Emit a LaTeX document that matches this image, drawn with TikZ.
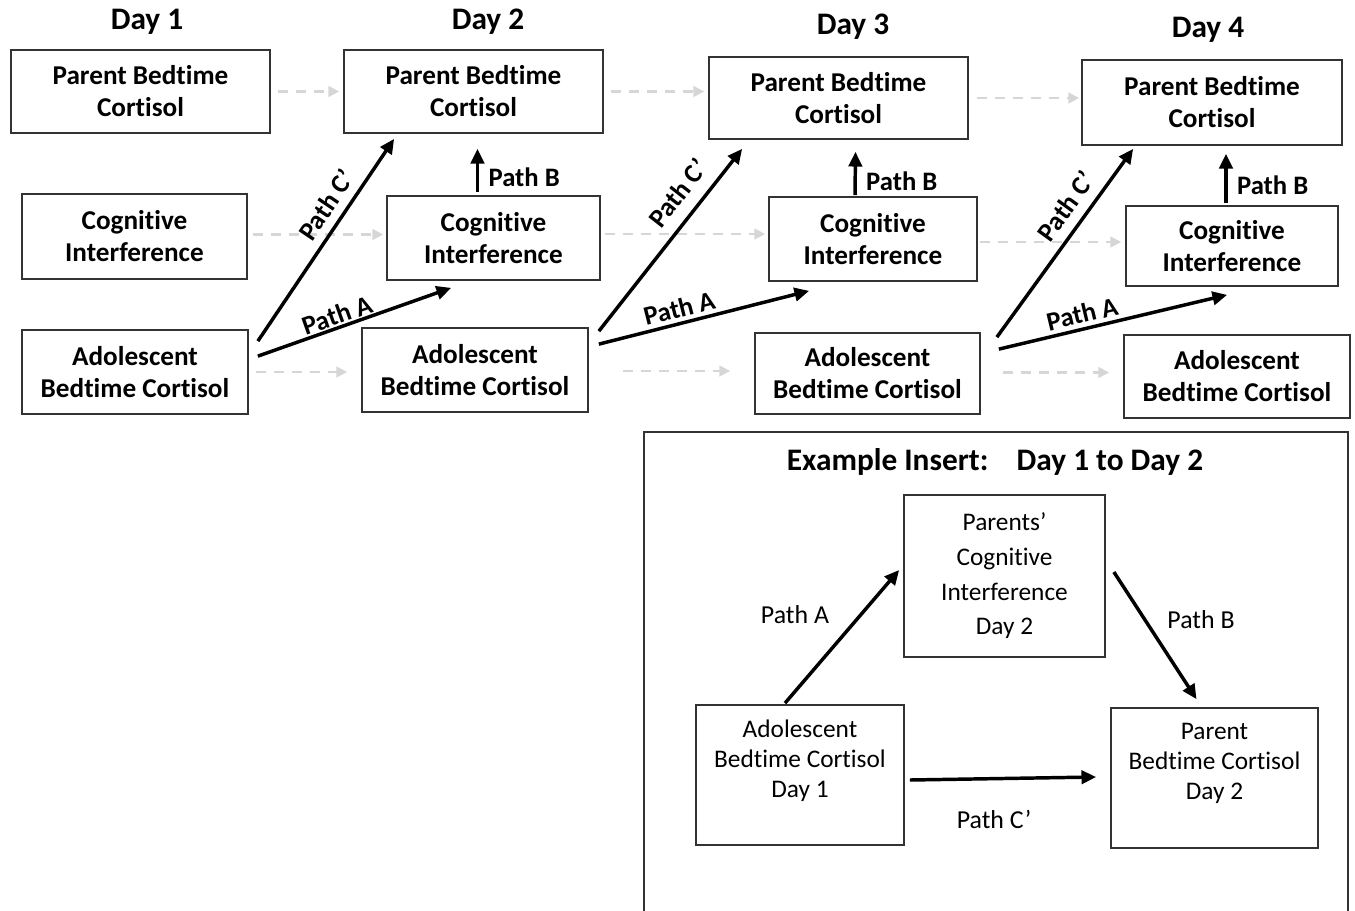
\documentclass[tikz,border=0pt]{standalone}
\usepackage{fontspec}
\setmainfont{Carlito}[Ligatures=NoCommon]
\usetikzlibrary{calc,arrows.meta}
\newdimen\pxu \pxu=0.75pt
\begin{document}
\begin{tikzpicture}[x=0.75pt,y=-0.75pt,
  box/.style={draw=black!80, line width=1.3pt, align=center, inner sep=0pt,
     font=\fontsize{20.4}{24}\selectfont\bfseries},
  ibox/.style={draw=black!80, line width=1.3pt, inner sep=0pt},
  itext/.style={align=center, inner sep=0pt, font=\fontsize{19}{22.5}\selectfont},
  daylab/.style={font=\fontsize{23.5}{26}\selectfont\bfseries, inner sep=0pt},
  ghost/.style={draw=black!16, line width=1.6pt, dash pattern=on 7.5pt off 6pt,
     -{Triangle[length=8pt,width=8pt]}},
  patharrow/.style={line width=2.6pt, -{Triangle[length=11pt,width=10pt]}},
  plab/.style={font=\fontsize{20}{22}\selectfont\bfseries, inner sep=1pt},
  ilab/.style={font=\fontsize{19.4}{22}\selectfont, inner sep=1pt}
]
\useasboundingbox (0,0) rectangle (1355,910);

% Day labels
\node[daylab] (day1) at (147,22) {Day 1};
\node[daylab] (day2) at (488,22) {Day 2};
\node[daylab] (day3) at (853,27) {Day 3};
\node[daylab] (day4) at (1208,30) {Day 4};

% Day 1
\node[box, minimum width=259\pxu, minimum height=83\pxu] (d1p) at (140.5,91.5) {Parent Bedtime\\Cortisol};
\node[box, minimum width=225\pxu, minimum height=85\pxu] (d1c) at (134.5,236.5) {Cognitive\\Interference};
\node[box, minimum width=226\pxu, minimum height=84\pxu] (d1a) at (135,372) {Adolescent\\Bedtime Cortisol};
% Day 2
\node[box, minimum width=259\pxu, minimum height=83\pxu] (d2p) at (473.5,91.5) {Parent Bedtime\\Cortisol};
\node[box, minimum width=213\pxu, minimum height=84\pxu] (d2c) at (493.5,238) {Cognitive\\Interference};
\node[box, minimum width=226\pxu, minimum height=84\pxu] (d2a) at (475,370) {Adolescent\\Bedtime Cortisol};
% Day 3
\node[box, minimum width=259\pxu, minimum height=82\pxu] (d3p) at (838.5,98) {Parent Bedtime\\Cortisol};
\node[box, minimum width=208\pxu, minimum height=84\pxu] (d3c) at (873,239) {Cognitive\\Interference};
\node[box, minimum width=225\pxu, minimum height=81\pxu] (d3a) at (867.5,373.5) {Adolescent\\Bedtime Cortisol};
% Day 4
\node[box, minimum width=260\pxu, minimum height=85\pxu] (d4p) at (1212,102.5) {Parent Bedtime\\Cortisol};
\node[box, minimum width=212\pxu, minimum height=80\pxu] (d4c) at (1232,246) {Cognitive\\Interference};
\node[box, minimum width=226\pxu, minimum height=83\pxu] (d4a) at (1237,376.5) {Adolescent\\Bedtime Cortisol};

% grey dashed autoregressive arrows
\draw[ghost, shorten <=7\pxu, shorten >=4\pxu] (d1p.east) -- (d1p.east -| d2p.west);
\draw[ghost, shorten <=5\pxu, shorten >=3\pxu] ($(d1c.east)+(0,-2)$) -- ($(d1c.east -| d2c.west)+(0,-2)$);
\draw[ghost, shorten <=7\pxu, shorten >=14\pxu] (d1a.east) -- (d1a.east -| d2a.west);
\draw[ghost, shorten <=7\pxu, shorten >=4\pxu] (d2p.east) -- (d2p.east -| d3p.west);
\draw[ghost, shorten <=4\pxu, shorten >=3\pxu] ($(d2c.east)+(0,-4)$) -- ($(d2c.east -| d3c.west)+(0,-4)$);
\draw[ghost, shorten <=34\pxu, shorten >=24\pxu] ($(d2a.east)+(0,1)$) -- ($(d2a.east -| d3a.west)+(0,1)$);
\draw[ghost, shorten <=8\pxu, shorten >=2\pxu] (d3p.east) -- (d3p.east -| d4p.west);
\draw[ghost, shorten <=2\pxu, shorten >=4\pxu] ($(d3c.east)+(0,3)$) -- ($(d3c.east -| d4c.west)+(0,3)$);
\draw[ghost, shorten <=22\pxu, shorten >=14\pxu] ($(d3a.east)+(0,-1)$) -- ($(d3a.east -| d4a.west)+(0,-1)$);

% Day 1 -> Day 2 paths
\draw[patharrow] ($(d1a.north east)+(9,12)$) -- node[plab, sloped, above=5pt, pos=0.62] {Path C’} ($(d2p.south west)+(51,5)$);
\draw[patharrow] ($(d1a.north east)+(9,27)$) -- node[plab, sloped, above, pos=0.43] {Path A} ($(d2c.south west)+(65,7)$);
\draw[patharrow] ($(d2c.north)+(-16,-3)$) -- node[plab, right=6pt, pos=0.35] {Path B} ($(d2p.south)+(4,15)$);

% Day 2 -> Day 3 paths
\draw[patharrow] ($(d2a.north east)+(10,4)$) -- node[plab, sloped, above=8pt, pos=0.68] {Path C’} ($(d3p.south west)+(34,9)$);
\draw[patharrow] ($(d2a.north east)+(10,17)$) -- node[plab, sloped, above=2pt, pos=0.4] {Path A} ($(d3c.south west)+(41,9)$);
\draw[patharrow] ($(d3c.north)+(-18,-1)$) -- node[plab, right=6pt, pos=0.32] {Path B} ($(d3p.south)+(17,12)$);

% Day 3 -> Day 4 paths
\draw[patharrow] ($(d3a.north east)+(16,5)$) -- node[plab, sloped, above=6pt, pos=0.63] {Path C’} ($(d4p.south west)+(52,3)$);
\draw[patharrow] ($(d3a.north east)+(18,17)$) -- node[plab, sloped, above=2pt, pos=0.38] {Path A} ($(d4c.south west)+(102,8)$);
\draw[patharrow] ($(d4c.north)+(-6,-2)$) -- node[plab, right=6pt, pos=0.36] {Path B} ($(d4p.south)+(14,8)$);

% Example insert frame
\draw[draw=black!80, line width=1.3pt] (644,912) -- (644,432) -- (1348,432) -- (1348,912);
\node[font=\fontsize{23.5}{26}\selectfont\bfseries, inner sep=0pt] (ititle) at (995,462) {Example Insert:\hspace{0.9em}Day 1 to Day 2};

\node[ibox, minimum width=201\pxu, minimum height=162\pxu] (ic) at (1004.5,576) {};
\node[itext, font=\fontsize{19}{26}\selectfont] (ictext) at (ic) {Parents’\\Cognitive\\Interference\\Day 2};
\node[ibox, minimum width=208\pxu, minimum height=140\pxu] (ia) at (800,775) {};
\node[itext] (iatext) at ($(ia)+(0,-14)$) {Adolescent\\Bedtime Cortisol\\Day 1};
\node[ibox, minimum width=207\pxu, minimum height=140\pxu] (ip) at (1214.5,778) {};
\node[itext] (iptext) at ($(ip)+(0,-15)$) {Parent\\Bedtime Cortisol\\Day 2};

\draw[patharrow] ($(ia.north)+(-15,-1)$) -- ($(ic.west)+(-4,-6)$);
\node[ilab] (ilA) at (795,615) {Path A};
\draw[patharrow] ($(ic.east)+(8,-4)$) -- ($(ip.north)+(-18,-8)$);
\node[ilab] (ilB) at (1201,620) {Path B};
\draw[patharrow] ($(ia.east)+(5,5)$) -- ($(ip.west)+(-14,-1)$);
\node[ilab] (ilC) at (994,819) {Path C’};
\end{tikzpicture}
\end{document}
